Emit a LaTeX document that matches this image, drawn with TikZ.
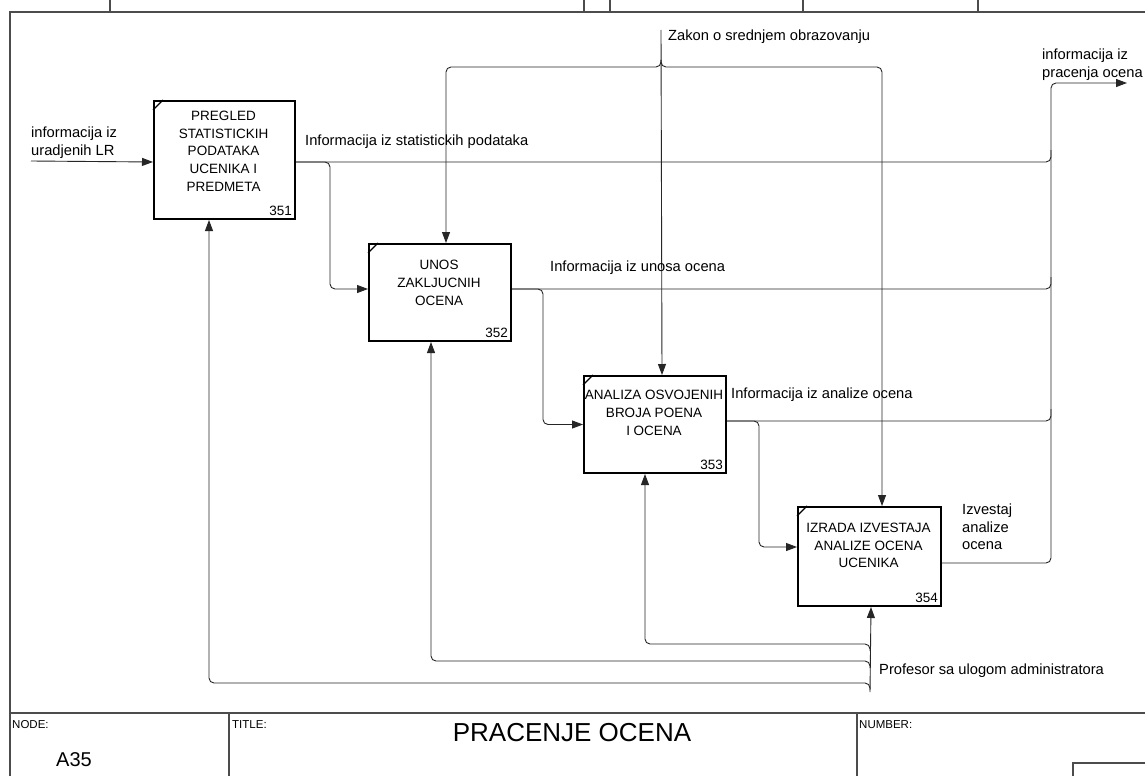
\documentclass[tikz,border=0pt]{standalone}
\usepackage{fontspec}
\setmainfont{Liberation Sans}
\usetikzlibrary{arrows.meta,calc}
\begin{document}
\begin{tikzpicture}[x=1pt,y=-1pt,
  conn/.style={draw=black!85, line width=0.9pt},
  rc/.style={rounded corners=5pt},
  ar/.style={-{Triangle[length=11pt,width=8pt]}},
  frame/.style={draw=black!70, line width=1.2pt},
  box/.style={draw=black, line width=2pt, inner sep=0pt, anchor=north west},
  corner/.style={draw=black, line width=1.3pt},
  boxtext/.style={font=\fontsize{13.5}{17.7}\selectfont, align=center, inner sep=0pt},
  num/.style={font=\fontsize{13.5}{16}\selectfont, inner sep=0pt, anchor=base east},
  lbl/.style={font=\fontsize{14.7}{17.7}\selectfont, align=left, inner sep=0pt, anchor=west},
  small/.style={font=\fontsize{11.5}{13}\selectfont, inner sep=0pt, anchor=west}]
\useasboundingbox (0,0) rectangle (1145,776);
\fill[white] (0,0) rectangle (1145,776);
% frame
\draw[frame] (10,776) -- (10,12) -- (1145,12);
\foreach \tx in {110,584,610,803,978} \draw[frame] (\tx,0) -- (\tx,12);
\draw[frame] (10,713) -- (1145,713);
\draw[frame] (229,713) -- (229,776);
\draw[frame] (857,713) -- (857,776);
\draw[frame] (1073,776) -- (1073,763) -- (1145,763);
\node[small] (nodelbl) at (12,725) {NODE:};
\node[small] (titlelbl) at (232,725) {TITLE:};
\node[small] (numlbl) at (859,725) {NUMBER:};
\node[font=\fontsize{26}{30}\selectfont, inner sep=0pt] (title) at (572,733) {PRACENJE OCENA};
\node[font=\fontsize{20}{24}\selectfont, inner sep=0pt] (nodeid) at (74,760) {A35};
% boxes
\node[box, minimum width=141pt, minimum height=118pt] (b351) at (153,100) {};
\node[box, minimum width=142pt, minimum height=97pt] (b352) at (368,243) {};
\node[box, minimum width=142pt, minimum height=97pt] (b353) at (583,375) {};
\node[box, minimum width=143pt, minimum height=99pt] (b354) at (797,506) {};
\foreach \b in {b351,b352,b353,b354}
  \draw[corner] ([yshift=-10pt]\b.north west) -- ([xshift=10pt]\b.north west);
\node[boxtext] (t351) at (223.5,151) {PREGLED\\STATISTICKIH\\PODATAKA\\UCENIKA I\\PREDMETA};
\node[boxtext] (t352) at (439,283) {UNOS\\ZAKLJUCNIH\\OCENA};
\node[boxtext] (t353) at (654,413) {ANALIZA OSVOJENIH\\BROJA POENA\\I OCENA};
\node[boxtext] (t354) at (868.5,545.5) {IZRADA IZVESTAJA\\ANALIZE OCENA\\UCENIKA};
\foreach \b/\n in {b351/351,b352/352,b353/353,b354/354}
  \node[num] (n\n) at ([xshift=-4pt,yshift=5pt]\b.south east) {\n};
% coordinates
\coordinate (in1) at (31,161);
\coordinate (railT) at (1051,83);
\coordinate (out1) at (1127,83);
\coordinate (h1) at (1051,150);
\coordinate (h2) at (1051,277);
\coordinate (h3) at (1051,409);
\coordinate (k1) at (330,220);
\coordinate (k2) at (543,350);
\coordinate (k3) at (759,480);
\coordinate (zk) at (661,30);
\coordinate (zj) at (661,60);
\coordinate (zb) at (500,67);
\coordinate (mb) at (870,692);
\coordinate (mj1) at (870,651);
\coordinate (mj2) at (870,668);
\coordinate (mj3) at (870,690);
\coordinate (my1) at (700,644);
\coordinate (my2) at (700,661);
\coordinate (my3) at (700,683);
% input
\draw[conn,ar] (in1) -- ([yshift=-2pt]b351.west);
% outputs
\draw[conn,rc] ([yshift=-2pt]b351.east) -| (h1);
\draw[conn,rc] ([yshift=3.5pt]b352.east) -| (h2);
\draw[conn,rc] ([yshift=3.5pt]b353.east) -| (h3);
\draw[conn,rc,ar] ([yshift=-6.5pt]b354.east) -| (railT) -- (out1);
% branches to next boxes
\draw[conn,rc,ar] ([yshift=-2pt]b351.east) -| (k1) |- ([yshift=3.5pt]b352.west);
\draw[conn,rc,ar] ([yshift=3.5pt]b352.east) -| (k2) |- (b353.west);
\draw[conn,rc,ar] ([yshift=3.5pt]b353.east) -| (k3) |- ([yshift=9.5pt]b354.west);
% control
\draw[conn,ar] (zk) -- ([xshift=7pt]b353.north);
\draw[conn,rc,ar] (zj) |- ([xshift=6pt]b352.north |- zb) -- ([xshift=6pt]b352.north);
\draw[conn,rc,ar] (zj) |- ([xshift=12.5pt]b354.north |- zb) -- ([xshift=12.5pt]b354.north);
% mechanism
\draw[conn,ar] (mb) -- ([xshift=1.5pt]b354.south);
\draw[conn,rc,ar] (mj1) |- ([xshift=-10pt]b353.south |- my1) -- ([xshift=-10pt]b353.south);
\draw[conn,rc,ar] (mj2) |- ([xshift=-9pt]b352.south |- my2) -- ([xshift=-9pt]b352.south);
\draw[conn,rc,ar] (mj3) |- ([xshift=-15.5pt]b351.south |- my3) -- ([xshift=-15.5pt]b351.south);
% labels
\node[lbl] (lin) at (31,142.5) {informacija iz\\uradjenih LR};
\node[lbl] (lo1) at (305,142) {Informacija iz statistickih podataka};
\node[lbl] (lo2) at (550,268) {Informacija iz unosa ocena};
\node[lbl] (lo3) at (731,395) {Informacija iz analize ocena};
\node[lbl] (lo4) at (962,527) {Izvestaj\\analize\\ocena};
\node[lbl] (lout) at (1042,65) {informacija iz\\pracenja ocena};
\node[lbl] (lzk) at (668,37) {Zakon o srednjem obrazovanju};
\node[lbl] (lmech) at (879,671) {Profesor sa ulogom administratora};
\end{tikzpicture}
\end{document}
